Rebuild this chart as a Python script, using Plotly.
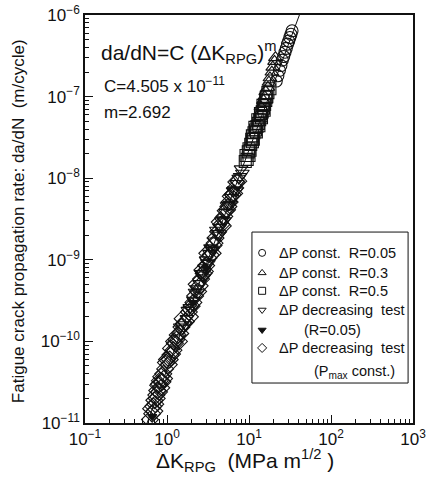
import plotly.graph_objects as go

# Fatigue crack growth data: ΔK_RPG (MPa m^1/2) vs da/dN (m/cycle)
dk_r005 = [21.5, 22.5, 23.5, 24.5, 25.5, 26.5, 27.5, 28.5, 29.5, 30.5, 31.5, 32.5, 33.5]
da_r005 = [1.55e-7, 1.8e-7, 2.1e-7, 2.4e-7, 2.8e-7, 3.1e-7, 3.5e-7, 3.9e-7, 4.4e-7, 4.8e-7, 5.3e-7, 5.8e-7, 6.4e-7]

dk_r03 = [14.0, 15.0, 15.5, 16.0, 17.0, 17.5, 18.0, 19.0, 19.5, 20.5, 21.0]
da_r03 = [7.5e-8, 9.0e-8, 1.0e-7, 1.15e-7, 1.3e-7, 1.5e-7, 1.7e-7, 2.0e-7, 2.3e-7, 2.7e-7, 3.0e-7]

dk_r05 = [9.0, 9.2, 9.5, 9.8, 10.0, 10.0, 10.3, 10.5, 10.8, 11.0, 11.0, 11.3, 11.5, 11.8, 12.0, 12.3,
          12.5, 12.8, 13.0, 13.2, 13.5, 13.8, 14.0, 14.2, 14.5, 14.8, 15.0, 15.3, 15.5, 16.0, 16.2,
          16.5, 17.0, 18.0]
da_r05 = [1.6e-8, 1.9e-8, 1.7e-8, 2.1e-8, 1.9e-8, 2.3e-8, 2.2e-8, 2.6e-8, 3.0e-8, 2.8e-8, 3.3e-8,
          3.0e-8, 3.6e-8, 4.2e-8, 3.9e-8, 3.7e-8, 4.3e-8, 5.2e-8, 4.7e-8, 4.4e-8, 5.2e-8, 6.2e-8,
          5.8e-8, 5.5e-8, 6.5e-8, 7.8e-8, 7.2e-8, 6.8e-8, 8.0e-8, 9.0e-8, 9.8e-8, 1.0e-7, 1.12e-7,
          1.25e-7]

dk_dec = [1.35, 1.45, 1.55, 1.65, 1.75, 1.8, 1.9, 2.0, 2.1, 2.2, 2.3, 2.4, 2.5, 2.6, 2.7, 2.8, 2.9,
          3.0, 3.1, 3.2, 3.3, 3.4, 3.5, 3.6, 3.8, 4.0, 4.1, 4.3, 4.4, 4.6, 4.8, 5.0, 5.2, 5.4, 5.6,
          5.9, 6.1, 6.4, 6.6, 7.0, 7.2, 7.5, 7.8, 8.0, 8.3]
da_dec = [1.1e-10, 1.5e-10, 1.45e-10, 1.6e-10, 1.9e-10, 2.4e-10, 2.6e-10, 2.5e-10, 3.2e-10, 4.0e-10,
          4.4e-10, 4.0e-10, 5.1e-10, 6.8e-10, 6.5e-10, 6.0e-10, 8.0e-10, 1.0e-9, 9.2e-10, 9.0e-10,
          1.2e-9, 1.4e-9, 1.35e-9, 1.3e-9, 1.7e-9, 2.3e-9, 2.1e-9, 2.0e-9, 2.5e-9, 3.0e-9, 3.1e-9,
          3.0e-9, 3.8e-9, 4.6e-9, 4.7e-9, 4.8e-9, 5.8e-9, 7.0e-9, 7.2e-9, 7.0e-9, 8.6e-9, 1.0e-8,
          1.05e-8, 1.3e-8, 1.15e-8]

dk_dec_fill = [0.66, 2.05, 3.0]
da_dec_fill = [1.2e-11, 3.0e-10, 7.8e-10]

dk_pmax = [0.62, 0.64, 0.66, 0.68, 0.70, 0.70, 0.72, 0.74, 0.75, 0.76, 0.78, 0.80, 0.80, 0.82, 0.85,
           0.85, 0.88, 0.90, 0.92, 0.95, 0.97, 1.0, 1.05, 1.08, 1.1, 1.12, 1.15, 1.2, 1.22, 1.25,
           1.3, 1.35, 1.4, 1.45, 1.5, 1.55, 1.6, 1.7, 1.85, 1.9, 2.0, 2.1, 2.2, 2.3, 2.4, 2.5, 2.6,
           2.7, 2.8, 2.9, 3.0, 3.1, 3.2, 3.4, 3.6, 3.7, 3.8, 3.9, 4.2, 4.4, 4.6, 4.8, 5.0, 5.2, 5.4,
           5.6, 5.8, 6.0, 6.3, 6.6, 6.8, 7.0, 7.4]
da_pmax = [1.1e-11, 1.5e-11, 1.3e-11, 1.6e-11, 1.9e-11, 1.4e-11, 1.7e-11, 2.2e-11, 2.0e-11, 2.5e-11,
           2.9e-11, 2.4e-11, 3.0e-11, 3.3e-11, 3.7e-11, 2.7e-11, 3.2e-11, 4.0e-11, 3.5e-11, 4.6e-11,
           5.5e-11, 6.0e-11, 5.2e-11, 6.0e-11, 6.8e-11, 8.2e-11, 7.0e-11, 7.8e-11, 1.0e-10, 9.5e-11,
           1.05e-10, 1.2e-10, 1.0e-10, 1.25e-10, 1.5e-10, 1.9e-10, 1.65e-10, 1.75e-10, 2.3e-10,
           2.0e-10, 2.7e-10, 3.0e-10, 3.6e-10, 5.0e-10, 4.1e-10, 4.8e-10, 5.8e-10, 7.5e-10, 6.8e-10,
           7.2e-10, 8.5e-10, 1.2e-9, 1.05e-9, 1.15e-9, 1.2e-9, 1.5e-9, 1.6e-9, 1.85e-9, 2.2e-9,
           2.9e-9, 2.7e-9, 2.6e-9, 3.4e-9, 4.0e-9, 4.1e-9, 4.5e-9, 5.1e-9, 6.0e-9, 6.3e-9, 6.5e-9,
           7.6e-9, 9.0e-9, 9.2e-9]

# Paris law fit
C = 4.505e-11
m = 2.692
fit_dk = [0.1, 1000.0]

x_ticks = [0.1, 1, 10, 100, 1000]
x_ticktext = ["10<sup>−1</sup>", "10<sup>0</sup>", "10<sup>1</sup>", "10<sup>2</sup>", "10<sup>3</sup>"]
y_ticks = [1e-11, 1e-10, 1e-9, 1e-8, 1e-7, 1e-6]
y_ticktext = ["10<sup>−11</sup>", "10<sup>−10</sup>", "10<sup>−9</sup>", "10<sup>−8</sup>",
              "10<sup>−7</sup>", "10<sup>−6</sup>"]

legend_labels = ["ΔP const.\u00a0\u00a0R=0.05", "ΔP const.\u00a0\u00a0R=0.3", "ΔP const.\u00a0\u00a0R=0.5",
                 "ΔP decreasing\u00a0\u00a0test", "(R=0.05)", "ΔP decreasing\u00a0\u00a0test",
                 "(P<sub>max</sub> const.)"]

FONT = "Liberation Sans, Arial, sans-serif"
INK = "#111111"

fig = go.Figure()

fig.add_trace(go.Scatter(x=fit_dk, y=[C * k ** m for k in fit_dk], mode="lines",
                         line=dict(color=INK, width=1), showlegend=False, hoverinfo="skip"))

series = [
    (dk_pmax, da_pmax, "diamond-open", 13),
    (dk_dec, da_dec, "triangle-down-open", 12),
    (dk_dec_fill, da_dec_fill, "triangle-down", 8),
    (dk_r05, da_r05, "square-open", 12),
    (dk_r03, da_r03, "triangle-up-open", 12),
    (dk_r005, da_r005, "circle-open", 12),
]
for xs, ys, sym, sz in series:
    fig.add_trace(go.Scatter(x=xs, y=ys, mode="markers",
                             marker=dict(symbol=sym, size=sz, color=INK, line=dict(width=1.1, color=INK)),
                             showlegend=False))

# Hand-built legend box on an overlay unit axis
leg_syms = ["circle-open", "triangle-up-open", "square-open", "triangle-down-open", "triangle-down",
            "diamond-open"]
leg_y = [0.417, 0.368, 0.324, 0.277, 0.228, 0.184]
leg_mx = 0.540
for sym, yy in zip(leg_syms, leg_y):
    fig.add_trace(go.Scatter(x=[leg_mx], y=[yy], xaxis="x2", yaxis="y2", mode="markers",
                             marker=dict(symbol=sym, size=7, color=INK, line=dict(width=1, color=INK)),
                             showlegend=False, hoverinfo="skip"))

fig.add_shape(type="rect", xref="paper", yref="paper", x0=0.509, x1=0.985, y0=0.098, y1=0.468,
              line=dict(color=INK, width=1), fillcolor="rgba(0,0,0,0)")

leg_text_x = [0.585, 0.585, 0.585, 0.585, 0.662, 0.585, 0.692]
leg_text_y = [0.417, 0.368, 0.324, 0.277, 0.228, 0.184, 0.125]
for lab, tx, ty in zip(legend_labels, leg_text_x, leg_text_y):
    fig.add_annotation(x=tx, y=ty, xref="paper", yref="paper", text=lab, showarrow=False,
                       xanchor="left", yanchor="middle", font=dict(size=14.5, color=INK, family=FONT))

fig.add_annotation(x=0.044, y=0.909, xref="paper", yref="paper",
                   text="da/dN=C (ΔK<sub>RPG</sub>)<sup>m</sup>", showarrow=False,
                   xanchor="left", yanchor="middle", font=dict(size=21, color=INK, family=FONT))
fig.add_annotation(x=0.052, y=0.828, xref="paper", yref="paper",
                   text="C=4.505 x 10<sup>−11</sup>", showarrow=False,
                   xanchor="left", yanchor="middle", font=dict(size=17, color=INK, family=FONT))
fig.add_annotation(x=0.052, y=0.762, xref="paper", yref="paper",
                   text="m=2.692", showarrow=False,
                   xanchor="left", yanchor="middle", font=dict(size=17, color=INK, family=FONT))

# Axis titles placed as paper annotations for fixed positions
fig.add_annotation(x=-0.204, y=0.495, xref="paper", yref="paper", textangle=-90,
                   text="Fatigue crack propagation rate: da/dN\u00a0\u00a0(m/cycle)", showarrow=False,
                   xanchor="center", yanchor="middle", font=dict(size=17, color=INK, family=FONT))
fig.add_annotation(x=0.488, y=-0.093, xref="paper", yref="paper",
                   text="ΔK<sub>RPG</sub>\u00a0\u00a0(MPa m<sup>1/2</sup> )", showarrow=False,
                   xanchor="center", yanchor="middle", font=dict(size=21, color=INK, family=FONT))

axis_common = dict(showgrid=False, zeroline=False, showline=True, linecolor=INK, linewidth=1.5,
                   mirror=True, ticks="inside", ticklen=8, tickwidth=1, tickcolor=INK,
                   automargin=False, tickfont=dict(size=17, color=INK, family=FONT))

x_minor = [k * 10 ** e for e in range(-1, 3) for k in range(2, 10)]
y_minor = [k * 10.0 ** e for e in range(-11, -6) for k in range(2, 10)]

fig.update_layout(
    width=427, height=485,
    margin=dict(l=85, r=14, t=15, b=62),
    paper_bgcolor="white", plot_bgcolor="white",
    font=dict(family=FONT, color=INK),
    xaxis=dict(type="log", range=[-1, 3], tickvals=x_ticks, ticktext=x_ticktext,
               minor=dict(tickvals=x_minor, ticks="inside", ticklen=4, tickcolor=INK),
               **axis_common),
    yaxis=dict(type="log", range=[-11, -6], tickvals=y_ticks, ticktext=y_ticktext,
               minor=dict(tickvals=y_minor, ticks="inside", ticklen=4, tickcolor=INK),
               **axis_common),
    xaxis2=dict(overlaying="x", range=[0, 1], visible=False, fixedrange=True),
    yaxis2=dict(overlaying="y", range=[0, 1], visible=False, fixedrange=True),
)

fig.write_html("out.html")
